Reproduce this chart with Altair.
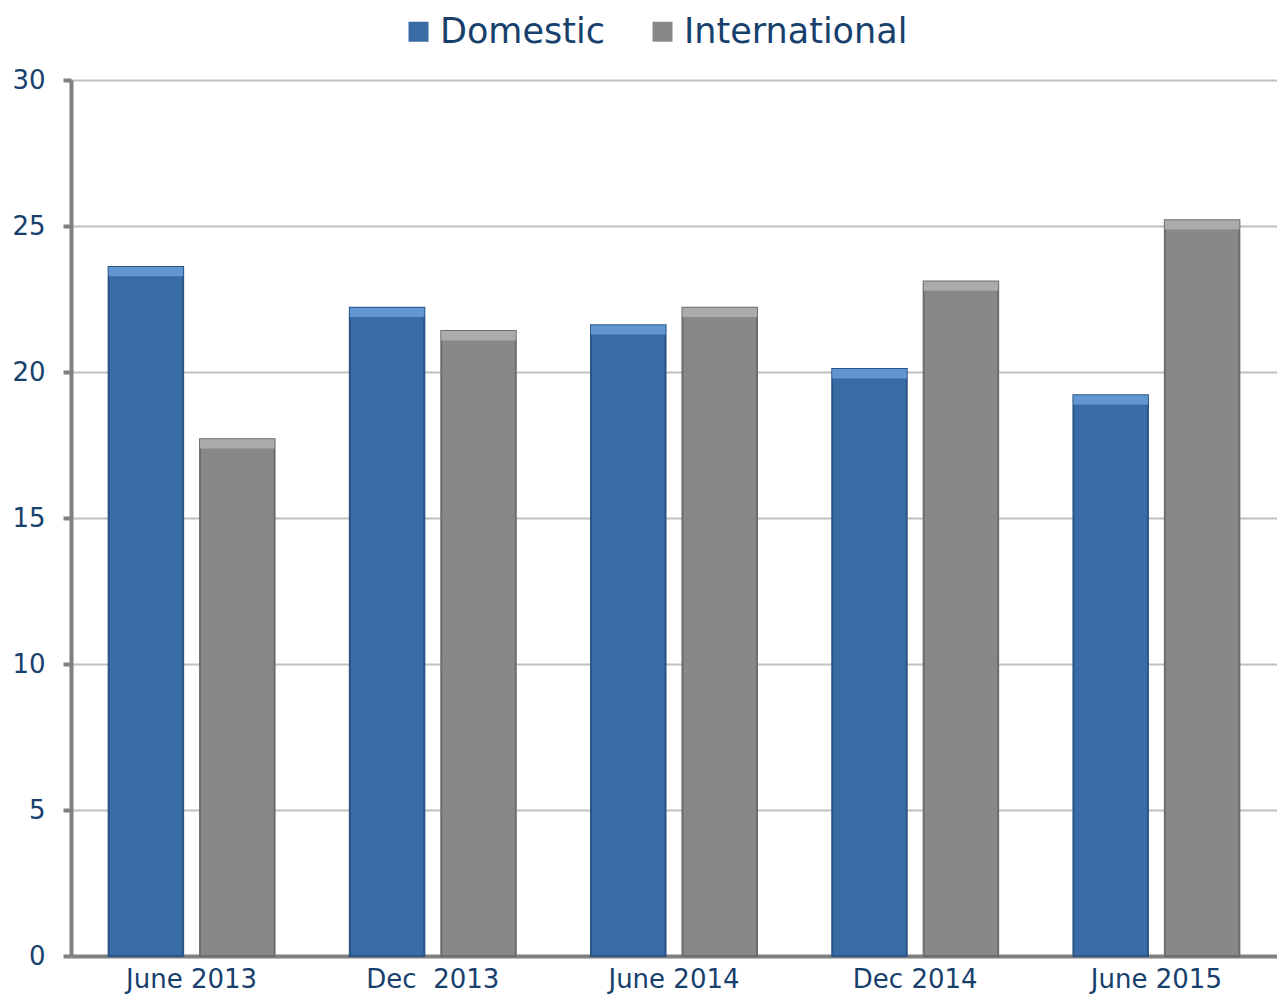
import altair as alt
import pandas as pd

periods = ["June 2013", "Dec \u00a02013", "June 2014", "Dec 2014", "June 2015"]
series = ["Domestic", "International"]
domestic = [23.6, 22.2, 21.6, 20.1, 19.2]
international = [17.7, 21.4, 22.2, 23.1, 25.2]

rows = []
for p, d, i in zip(periods, domestic, international):
    rows.append({"period": p, "series": "Domestic", "value": d})
    rows.append({"period": p, "series": "International", "value": i})
df = pd.DataFrame(rows)

TEXT = "#17406d"
FONT = "DejaVu Sans"
MAIN = ["#396ca4", "#888888"]
EDGE = ["#2a5586", "#6c6c6c"]
LIGHT = ["#6296d2", "#ababab"]

x_enc = alt.X(
    "period:N", sort=periods,
    scale=alt.Scale(paddingInner=0.312, paddingOuter=0.156),
    axis=alt.Axis(title=None, labelAngle=0, ticks=False, domain=True,
                  domainColor="#808080", domainWidth=4, labelFontSize=26,
                  labelColor=TEXT, labelFont=FONT, labelPadding=10, grid=False),
)
xo_enc = alt.XOffset("series:N", sort=series,
                     scale=alt.Scale(paddingInner=0.185, paddingOuter=0))
y_enc = alt.Y(
    "value:Q",
    scale=alt.Scale(domain=[0, 30], nice=False),
    axis=alt.Axis(title=None, values=[0, 5, 10, 15, 20, 25, 30],
                  domainColor="#808080", domainWidth=4,
                  tickColor="#808080", tickWidth=4, tickSize=8,
                  labelPadding=18, labelFontSize=26, labelColor=TEXT, labelFont=FONT,
                  grid=True, gridColor="#c0c0c0", gridWidth=2),
)

base = alt.Chart(df)

shadow = base.mark_bar(color="#9a9a9a", opacity=0.35, xOffset=-5).encode(
    x=x_enc, xOffset=xo_enc, y=y_enc
)

main = base.mark_bar(strokeWidth=2).encode(
    x=x_enc, xOffset=xo_enc, y=y_enc,
    color=alt.Color("series:N", sort=series,
                    scale=alt.Scale(domain=series, range=MAIN),
                    legend=alt.Legend(title=None, orient="none", legendX=330, legendY=-66,
                                      direction="horizontal", symbolType="square",
                                      symbolSize=400, symbolStrokeWidth=0,
                                      labelFontSize=35, labelColor=TEXT, labelFont=FONT,
                                      labelLimit=500, labelOffset=4, columnPadding=40)),
    stroke=alt.Stroke("series:N", sort=series,
                      scale=alt.Scale(domain=series, range=EDGE), legend=None),
)

top = base.transform_calculate(low="datum.value - 0.32").mark_bar().encode(
    x=x_enc, xOffset=xo_enc, y=y_enc, y2="low:Q",
    fill=alt.Fill("series:N", sort=series,
                  scale=alt.Scale(domain=series, range=LIGHT), legend=None),
)

chart = alt.layer(shadow, main, top).resolve_scale(
    color="independent", fill="independent", stroke="independent"
).properties(
    width=1206, height=876,
    autosize=alt.AutoSizeParams(type="none"),
    padding={"left": 63, "top": 72, "right": 0, "bottom": 42},
).configure_view(stroke=None).configure(background="white")

chart.save("out.html", embed_options={"renderer": "svg", "actions": False})
